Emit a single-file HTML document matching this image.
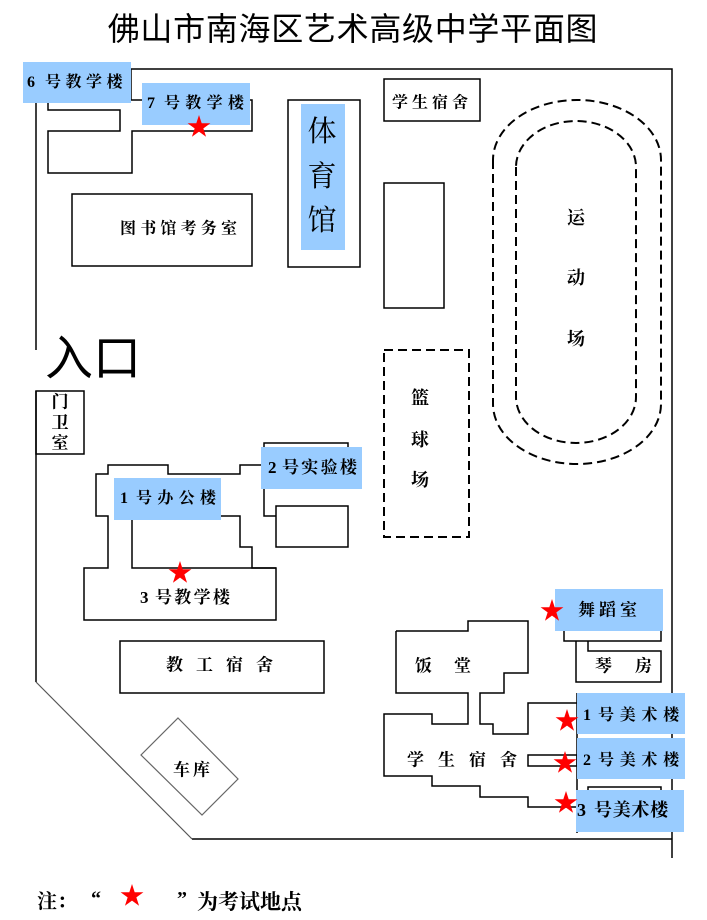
<!DOCTYPE html>
<html><head><meta charset="utf-8"><style>
html,body{margin:0;padding:0;background:#fff;}
svg{display:block;}
.t{font-family:"Liberation Serif","Noto Serif CJK SC",serif;font-weight:bold;fill:#000;dominant-baseline:central;}
</style></head><body>
<svg width="707" height="920" viewBox="0 0 707 920" xmlns="http://www.w3.org/2000/svg">
<defs>
<polygon id="star" points="0,-12 2.69,-3.71 11.41,-3.71 4.36,1.42 7.05,9.71 0,4.58 -7.05,9.71 -4.36,1.42 -11.41,-3.71 -2.69,-3.71" fill="#ff0000"/>
</defs>
<rect width="707" height="920" fill="#fff"/>
<text x="353" y="29" text-anchor="middle" font-family="'Liberation Sans','Noto Sans CJK SC',sans-serif" font-size="32" letter-spacing="0.7" dominant-baseline="central">佛山市南海区艺术高级中学平面图</text>

<g fill="none" stroke="#000" stroke-width="1.5">
<path d="M131,69 H672 V858"/>
<path d="M131,69 V100 H252 V131 H132 V173 H48 V131 H120 V110 H48 V103"/>
<path d="M36,100 V350"/>
<path d="M36,391 V682"/>
<path d="M192,839 H672"/>
<rect x="36" y="391" width="48" height="63"/>
<rect x="72" y="194" width="180" height="72"/>
<rect x="288" y="100" width="72" height="167"/>
<rect x="384" y="79" width="96" height="42"/>
<rect x="384" y="183" width="60" height="125"/>
<path d="M264,447 V443 H348 V447"/>
<path d="M264,489 V516 H276"/>
<rect x="276" y="506" width="72" height="41"/>
<path d="M261,465 H240 V474 H168 V465 H108 V474 H96 V516 H108 V568 H84 V620 H276 V568 H252 V547 H240 V516 H221"/>
<path d="M132,520 V568 H276"/>
<rect x="120" y="641" width="204" height="52"/>
<path d="M396,631 H468 V621 H528 V673 H504 V693 H480 V724 H493 V734 H528 V703 H577"/>
<path d="M396,631 V693 H468 V724 H432 V714 H384 V776 H432 V786 H480 V797 H528 V807 H577"/>
<rect x="528" y="755" width="49" height="11"/>
<path d="M577,693 V833"/>
<path d="M588,790 V787 H661 V790"/>
<path d="M564,631 V641 H661 V631"/>
<path d="M576,641 V682 H661 V651 H588 V641"/>
</g>
<path d="M36,682 L192,839" stroke="#555" stroke-width="1.2" fill="none"/>
<polygon points="178,718 238,779 202,815 141,755" fill="none" stroke="#666" stroke-width="1.2"/>

<g fill="none" stroke="#000" stroke-width="2" stroke-dasharray="9,5">
<path d="M493,160 L493,404 A84,60 0 0 0 661,404 L661,160 A84,60 0 0 0 493,160 Z"/>
<path d="M516,167 L516,397 A60,46 0 0 0 636,397 L636,167 A60,46 0 0 0 516,167 Z"/>
<rect x="384" y="350" width="85" height="187"/>
</g>

<g fill="#99ccff">
<rect x="23" y="62" width="108" height="41"/>
<rect x="142" y="83" width="108" height="42"/>
<rect x="301" y="104" width="44" height="146"/>
<rect x="261" y="447" width="101" height="42"/>
<rect x="114" y="478" width="107" height="42"/>
<rect x="555" y="589" width="108" height="42"/>
<rect x="577" y="693" width="108" height="41"/>
<rect x="577" y="738" width="108" height="41"/>
<rect x="576" y="790" width="108" height="42"/>
</g>

<text class="t" y="82" font-size="16"><tspan x="27">6</tspan><tspan x="45" letter-spacing="4.5">号教学楼</tspan></text>
<text class="t" y="103" font-size="16"><tspan x="147">7</tspan><tspan x="164" letter-spacing="5.3">号教学楼</tspan></text>
<text class="t" x="120" y="229" font-size="16" letter-spacing="4.2">图书馆考务室</text>
<text class="t" x="392" y="103" font-size="16" letter-spacing="4">学生宿舍</text>
<g font-family="'Liberation Serif','Noto Serif CJK SC',serif" font-size="29" text-anchor="middle" dominant-baseline="central">
<text x="322" y="132">体</text>
<text x="322" y="177">育</text>
<text x="322" y="221">馆</text>
</g>
<text class="t" x="576" y="218" text-anchor="middle" font-size="18">运</text>
<text class="t" x="576" y="278" text-anchor="middle" font-size="18">动</text>
<text class="t" x="576" y="339" text-anchor="middle" font-size="18">场</text>
<text class="t" x="420" y="398" text-anchor="middle" font-size="18">篮</text>
<text class="t" x="420" y="440" text-anchor="middle" font-size="18">球</text>
<text class="t" x="420" y="480" text-anchor="middle" font-size="18">场</text>
<text class="t" x="60" y="402" text-anchor="middle" font-size="17">门</text>
<text class="t" x="60" y="423" text-anchor="middle" font-size="17">卫</text>
<text class="t" x="60" y="443" text-anchor="middle" font-size="17">室</text>
<text x="45" y="359" font-family="'Liberation Sans','Noto Sans CJK SC',sans-serif" font-size="48" dominant-baseline="central">入口</text>
<text class="t" y="467" font-size="17"><tspan x="268">2</tspan><tspan x="282" letter-spacing="2.3">号实验楼</tspan></text>
<text class="t" y="498" font-size="16"><tspan x="120">1</tspan><tspan x="136" letter-spacing="5.3">号办公楼</tspan></text>
<text class="t" y="597" font-size="17"><tspan x="140">3</tspan><tspan x="155" letter-spacing="2.3">号教学楼</tspan></text>
<text class="t" x="166" y="665" font-size="17" letter-spacing="13">教工宿舍</text>
<text class="t" x="173" y="770" font-size="17" letter-spacing="3">车库</text>
<text class="t" x="415" y="666" font-size="17">饭</text>
<text class="t" x="454" y="666" font-size="17">堂</text>
<text class="t" x="407" y="760" font-size="17" letter-spacing="14">学生宿舍</text>
<text class="t" x="595" y="666" font-size="17">琴</text>
<text class="t" x="635" y="666" font-size="17">房</text>
<text class="t" x="578" y="610" font-size="17" letter-spacing="4">舞蹈室</text>
<text class="t" y="715" font-size="16"><tspan x="583">1</tspan><tspan x="598" letter-spacing="5.7">号美术楼</tspan></text>
<text class="t" y="760" font-size="16"><tspan x="583">2</tspan><tspan x="598" letter-spacing="5.7">号美术楼</tspan></text>
<text class="t" y="810" font-size="18"><tspan x="577">3</tspan><tspan x="594" letter-spacing="0.7">号美术楼</tspan></text>

<text class="t" x="37" y="902" font-size="20">注：</text>
<text class="t" x="91" y="899" font-size="20">“</text>
<text class="t" x="177" y="899" font-size="20">”</text>
<text class="t" x="197" y="902" font-size="21">为考试地点</text>

<use href="#star" x="199" y="127"/>
<use href="#star" x="180" y="573"/>
<use href="#star" x="552" y="611"/>
<use href="#star" x="567" y="721"/>
<use href="#star" x="565" y="763"/>
<use href="#star" x="566" y="803"/>
<use href="#star" x="132" y="896"/>
</svg>
</body></html>
